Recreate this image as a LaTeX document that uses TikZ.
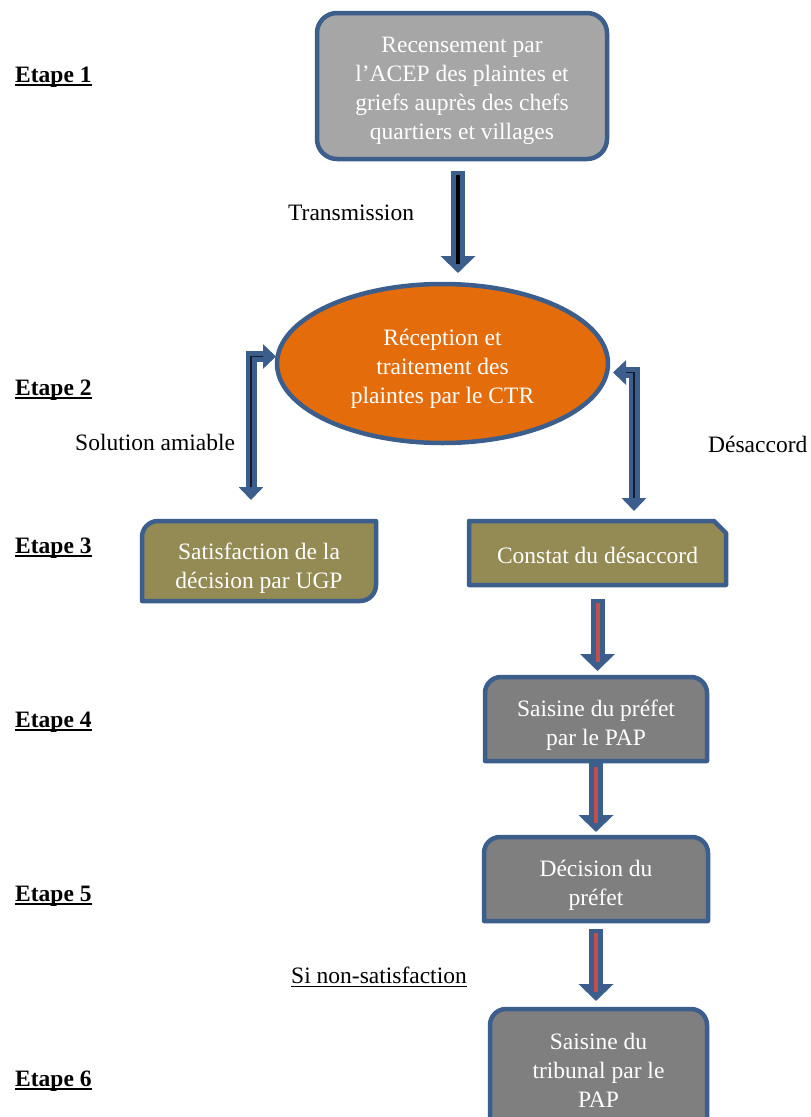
\documentclass[tikz,border=0pt]{standalone}
\usepackage{fontspec}
\setmainfont{Liberation Serif}
\usepackage{xcolor}
\definecolor{framblue}{RGB}{59, 94, 140}
\definecolor{recgray}{RGB}{166, 166, 166}
\definecolor{prefgray}{RGB}{127, 127, 127}
\definecolor{olivefill}{RGB}{148, 138, 84}
\definecolor{ctrorange}{RGB}{228, 108, 10}
\definecolor{stripered}{RGB}{192, 80, 77}
\usetikzlibrary{shapes.geometric, arrows.meta, backgrounds, calc}
\newcommand{\undl}[2][2pt]{\setbox0\hbox{#2}\rlap{\rule[-4pt]{\wd0}{#1}}\box0}
\newcommand{\tophigh}[1]{\rule{0pt}{#1}}

\begin{document}
\begin{tikzpicture}[
    x=1pt, y=-1pt,
    every node/.style={font=\fontsize{23.5}{29}\selectfont},
    box/.style={draw=framblue, line width=4.5pt, fill=#1, text=white, align=center,
                inner sep=0pt, outer sep=0pt},
    shapebox/.style={inner sep=0pt, outer sep=0pt, text=white, align=center},
    frame/.style={draw=framblue, line width=4.5pt, line join=round},
    etape/.style={anchor=base west, inner sep=0pt, font=\fontsize{23.5}{29}\selectfont\bfseries},
    note/.style={anchor=base west, inner sep=0pt},
    blockarrow/.style args={#1 from #2 to #3}{draw=framblue, line width=14pt,
                -{Triangle[length=17pt,width=34pt]}, shorten <=#2, shorten >=#3,
                postaction={draw=#1, line width=4pt, arrows=-, shorten <=#2+4pt, shorten >=#3+9pt}},
    bentarrow/.style args={#1 to #2}{draw=framblue, line width=11pt,
                {Triangle[length=13pt,width=24pt]}-{Triangle[length=13pt,width=24pt]},
                shorten <=#1, shorten >=#2,
                postaction={draw=black!70!framblue, line width=1.5pt, arrows=-, shorten <=#1+13pt, shorten >=#2+13pt}}
]
    \useasboundingbox (0,0) rectangle (811,1117);
    \clip (0,0) rectangle (811,1117);

    % Etapes
    \node[etape] (e1) at (15,82) {\undl{Etape 1}};
    \node[etape] (e2) at (15,395) {\undl{Etape 2}};
    \node[etape] (e3) at (15,553) {\undl{Etape 3}};
    \node[etape] (e4) at (15,727) {\undl{Etape 4}};
    \node[etape] (e5) at (15,901) {\undl{Etape 5}};
    \node[etape] (e6) at (15,1086) {\undl{Etape 6}};

    % Boxes
    \node[box=recgray, rounded corners=20pt, minimum width=290pt, minimum height=146pt] (recens) at (462,86)
        {\tophigh{26pt}Recensement par\\l’ACEP des plaintes et\\griefs auprès des chefs\\quartiers et villages};
    \node[box=ctrorange, ellipse, minimum width=331pt, minimum height=159pt] (ctr) at (442.5,363.5)
        {\tophigh{26pt}Réception et\\traitement des\\plaintes par le CTR};
    \node[shapebox, minimum width=234pt, minimum height=80pt] (sat) at (259,561)
        {\tophigh{30pt}Satisfaction de la\\décision par UGP};
    \node[shapebox, minimum width=257pt, minimum height=64pt] (constat) at (597.5,553)
        {\tophigh{22pt}Constat du désaccord};
    \node[shapebox, minimum width=222pt, minimum height=84pt] (prefet) at (596,719)
        {\tophigh{28pt}Saisine du préfet\\par le PAP};
    \node[shapebox, minimum width=224pt, minimum height=84pt] (decision) at (596,879)
        {\tophigh{28pt}Décision du\\préfet};
    \node[shapebox, minimum width=217pt, minimum height=122pt] (tribunal) at (598.5,1070)
        {Saisine du\\tribunal par le\\PAP};

    \begin{scope}[on background layer]
        \path[frame, fill=olivefill] (sat.north east) -- ([yshift=16pt]sat.south east)
            arc[start angle=0, end angle=-90, radius=16pt] -- (sat.south west)
            -- ([yshift=-16pt]sat.north west) arc[start angle=180, end angle=90, radius=16pt] -- cycle;
        \path[frame, fill=olivefill] (constat.north west) -- ([xshift=-12pt]constat.north east)
            -- ([yshift=-12pt]constat.north east) -- (constat.south east) -- (constat.south west) -- cycle;
        \foreach \b in {prefet, decision, tribunal}
            \path[frame, fill=prefgray] (\b.south west) -- ([yshift=-16pt]\b.north west)
                arc[start angle=180, end angle=90, radius=16pt] -- ([xshift=-16pt]\b.north east)
                arc[start angle=90, end angle=0, radius=16pt] -- (\b.south east) -- cycle;
    \end{scope}

    % Labels
    \node[note] (trans) at (288,220) {Transmission};
    \node[note] (amiable) at (75,450) {Solution amiable};
    \node[note] (desacc) at (708,452) {Désaccord};
    \node[note] (nonsat) at (291,983) {\undl[1.4pt]{Si non-satisfaction}};

    % Arrows
    \draw[blockarrow=black from 12pt to 11pt] ([xshift=-4pt]recens.south) -- ([xshift=-4pt]recens.south |- ctr.north);
    \draw[bentarrow=1pt to 21pt] ([yshift=7pt]ctr.west) -| ([xshift=-8pt]sat.north);
    \draw[bentarrow=5pt to 10pt] ([yshift=-9pt]ctr.east) -| ([xshift=36.5pt]constat.north);
    \draw[blockarrow=stripered from 14pt to 6pt] (constat.south) -- (constat.south |- prefet.north);
    \draw[blockarrow=stripered from 2pt to 5pt] (prefet.south) -- (decision.north);
    \draw[blockarrow=stripered from 8pt to 8pt] (decision.south) -- (decision.south |- tribunal.north);
\end{tikzpicture}
\end{document}
